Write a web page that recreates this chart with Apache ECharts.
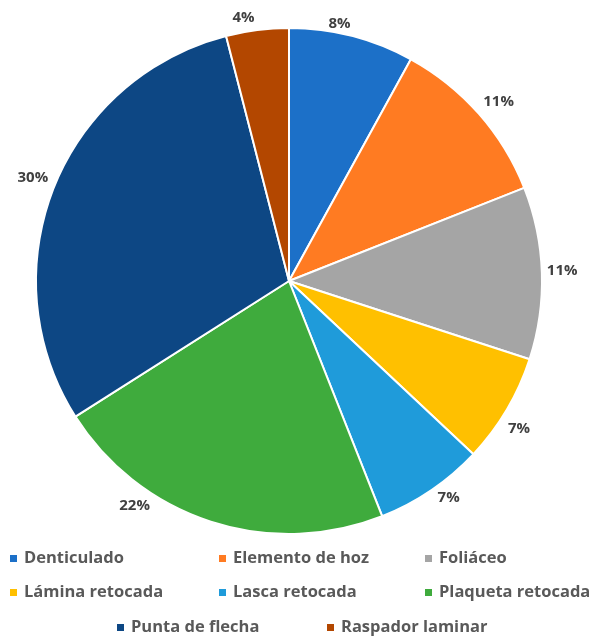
<!DOCTYPE html>
<html>
<head>
<meta charset="utf-8">
<title>Tipos de útiles</title>
<script src="https://cdn.jsdelivr.net/npm/echarts@6/dist/echarts.min.js"></script>
<style>
  html, body { margin: 0; padding: 0; background: #ffffff; }
  #chart { width: 596px; height: 637px; }
</style>
</head>
<body>
<div id="chart"></div>
<script>
// Categories and their share (%) of the total
const categories = [
  'Denticulado', 'Elemento de hoz', 'Foliáceo', 'Lámina retocada',
  'Lasca retocada', 'Plaqueta retocada', 'Punta de flecha', 'Raspador laminar'
];
const percentages = [8, 11, 11, 7, 7, 22, 30, 4];

const sliceColors = [
  '#1c70c8', '#ff7b22', '#a5a5a5', '#ffc000',
  '#1f9bda', '#3fab3d', '#0d4784', '#b34700'
];

// Legend grid: each entry placed in its own slot (left, top in px)
const legendSlots = [
  [8, 550], [217, 550], [423, 550],
  [8, 584], [217, 584], [423, 584],
  [115, 619], [325, 619]
];

// Small nudges of the outside labels (dx, dy in px), best-fit style placement
const labelNudges = [
  [-30, -6], [-5, -8], [-6, -2], [-9, 16],
  [-2, 3], [-54, -22], [5, -8], [3, -6]
];

const chart = echarts.init(document.getElementById('chart'), null, { renderer: 'canvas' });

const legends = categories.map((name, i) => ({
  data: [name],
  left: legendSlots[i][0],
  top: legendSlots[i][1],
  icon: 'rect',
  itemWidth: 9,
  itemHeight: 9,
  itemGap: 0,
  padding: 0,
  selectedMode: false,
  textStyle: {
    fontFamily: 'Open Sans',
    fontWeight: 'bold',
    fontSize: 16.5,
    color: '#595959',
    padding: [0, 0, 0, 1]
  }
}));

chart.setOption({
  animation: false,
  backgroundColor: '#ffffff',
  color: sliceColors,
  legend: legends,
  series: [{
    type: 'pie',
    center: [289, 281],
    radius: 253,
    startAngle: 90,
    clockwise: true,
    itemStyle: { borderColor: '#ffffff', borderWidth: 2 },
    label: {
      show: true,
      position: 'outside',
      formatter: p => p.value + '%',
      fontFamily: 'Open Sans',
      fontWeight: 'bold',
      fontSize: 15,
      color: '#404040'
    },
    labelLine: { show: false, length: 6, length2: 0 },
    labelLayout: p => ({ dx: labelNudges[p.dataIndex][0], dy: labelNudges[p.dataIndex][1] }),
    emphasis: { disabled: true },
    data: categories.map((name, i) => ({ name, value: percentages[i] }))
  }]
});
</script>
</body>
</html>
